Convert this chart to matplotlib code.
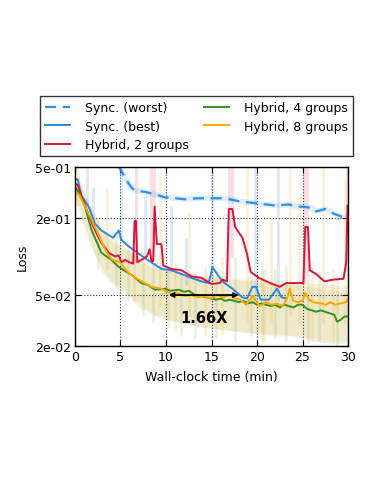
import numpy as np
import matplotlib
matplotlib.use("Agg")
import matplotlib.pyplot as plt
from matplotlib.ticker import FixedLocator, FuncFormatter, NullLocator

# ---------------- data ----------------
t_worst = [3.0, 4.0, 4.7, 5.3, 5.8, 6.3, 6.7, 7.7, 8.8, 9.9, 11.0, 12.1, 13.5, 15.0, 16.0,
           17.0, 18.0, 19.0, 20.0, 21.0, 22.0, 23.5, 24.5, 25.0, 26.0, 26.5, 27.5, 28.5, 29.3, 30.0]
y_worst = [0.9, 0.7, 0.52, 0.44, 0.38, 0.34, 0.325, 0.32, 0.305, 0.29, 0.285, 0.28, 0.285, 0.285,
           0.285, 0.28, 0.27, 0.265, 0.26, 0.255, 0.25, 0.255, 0.245, 0.245, 0.24, 0.225, 0.235,
           0.215, 0.205, 0.205]

t_best = [0.0, 0.3, 0.7, 1.5, 2.2, 2.9, 3.7, 4.2, 4.8, 5.1, 5.9, 7.0, 7.7, 8.4, 9.5, 10.6,
          11.7, 12.8, 13.9, 14.7, 15.1, 15.5, 16.2, 17.3, 18.4, 18.9, 19.5, 19.9, 20.4,
          21.3, 22.2, 22.7, 23.2]
y_best = [0.40, 0.40, 0.30, 0.245, 0.18, 0.16, 0.147, 0.14, 0.16, 0.135, 0.12, 0.105, 0.097,
          0.09, 0.08, 0.078, 0.073, 0.068, 0.064, 0.062, 0.083, 0.075, 0.064, 0.056, 0.048,
          0.047, 0.058, 0.058, 0.046, 0.046, 0.056, 0.048, 0.047]

t_h2 = [0.0, 0.3, 0.7, 1.5, 2.2, 2.9, 3.7, 4.4, 4.8, 5.1, 5.5, 6.0, 6.4, 6.55, 6.7, 6.85,
        7.3, 7.9, 8.2, 8.4, 8.6, 8.75, 9.0, 9.5, 9.7, 10.6, 11.7, 12.8, 13.9, 15.0, 15.9,
        16.2, 16.7, 16.9, 17.3, 17.6, 18.4, 18.9, 19.3, 20.2, 21.7, 22.5, 23.2, 24.7, 25.1,
        25.3, 25.6, 25.8, 26.5, 27.4, 28.4, 29.5, 29.8, 29.95]
y_h2 = [0.37, 0.36, 0.30, 0.21, 0.16, 0.128, 0.107, 0.10, 0.102, 0.09, 0.094, 0.09, 0.088,
        0.19, 0.19, 0.09, 0.094, 0.10, 0.114, 0.092, 0.092, 0.245, 0.125, 0.125, 0.085,
        0.08, 0.078, 0.07, 0.068, 0.061, 0.062, 0.066, 0.064, 0.235, 0.235, 0.17, 0.14,
        0.105, 0.076, 0.068, 0.061, 0.058, 0.062, 0.062, 0.062, 0.17, 0.17, 0.078, 0.073,
        0.064, 0.066, 0.067, 0.09, 0.25]

t_h4 = [0.0, 0.5, 1.1, 1.8, 2.9, 4.0, 4.8, 5.5, 6.2, 7.3, 8.0, 8.8, 9.9, 10.5, 11.4, 12.0,
        12.5, 13.2, 13.9, 14.5, 15.0, 15.5, 16.0, 16.5, 17.0, 17.5, 18.0, 18.5, 19.0, 19.5,
        20.0, 20.5, 21.0, 21.5, 22.0, 22.5, 23.0, 23.5, 24.0, 24.5, 25.0, 25.5, 26.0, 26.5,
        27.0, 27.5, 28.0, 28.5, 28.8, 29.2, 29.6, 30.0]
y_h4 = [0.35, 0.31, 0.245, 0.162, 0.107, 0.094, 0.083, 0.077, 0.072, 0.062, 0.060, 0.055,
        0.056, 0.054, 0.055, 0.053, 0.054, 0.050, 0.049, 0.048, 0.047, 0.046, 0.047, 0.045,
        0.046, 0.045, 0.044, 0.045, 0.043, 0.044, 0.042, 0.043, 0.042, 0.041, 0.042, 0.040,
        0.042, 0.041, 0.040, 0.042, 0.042, 0.039, 0.038, 0.037, 0.038, 0.037, 0.036, 0.035,
        0.031, 0.032, 0.034, 0.034]

t_h8 = [0.0, 0.5, 1.1, 2.2, 3.3, 4.0, 4.95, 6.0, 7.3, 8.4, 9.5, 10.6, 11.3, 12.1, 12.8,
        13.5, 14.2, 15.0, 15.6, 16.3, 17.0, 17.6, 18.2, 18.8, 19.5, 20.3, 21.0, 21.6, 22.2,
        22.8, 23.3, 23.6, 24.0, 24.5, 25.0, 25.3, 25.7, 26.2, 27.0, 27.6, 28.0, 28.6, 29.2,
        29.8, 30.0]
y_h8 = [0.32, 0.30, 0.245, 0.17, 0.114, 0.095, 0.09, 0.073, 0.064, 0.058, 0.056, 0.051,
        0.052, 0.049, 0.050, 0.048, 0.049, 0.047, 0.050, 0.048, 0.050, 0.047, 0.046, 0.042,
        0.049, 0.041, 0.044, 0.042, 0.043, 0.041, 0.047, 0.056, 0.045, 0.044, 0.045, 0.052,
        0.046, 0.044, 0.043, 0.042, 0.044, 0.042, 0.043, 0.044, 0.046]

# faint noise envelopes of the raw hybrid curves
t_band = [0.0, 0.5, 1.0, 1.5, 2.0, 3.0, 4.0, 5.0, 6.0, 7.0, 8.0, 9.0, 10.0, 12.0, 14.0,
          16.0, 18.0, 20.0, 22.0, 24.0, 26.0, 28.0, 30.0]
lo_h4 = [0.30, 0.24, 0.18, 0.14, 0.11, 0.075, 0.062, 0.055, 0.048, 0.040, 0.037, 0.034,
         0.032, 0.030, 0.028, 0.027, 0.026, 0.025, 0.024, 0.024, 0.022, 0.021, 0.021]
hi_h4 = [0.42, 0.40, 0.33, 0.26, 0.22, 0.16, 0.13, 0.12, 0.11, 0.095, 0.085, 0.08, 0.078,
         0.072, 0.07, 0.068, 0.066, 0.064, 0.062, 0.06, 0.058, 0.055, 0.052]
lo_h8 = [0.27, 0.22, 0.17, 0.13, 0.11, 0.08, 0.065, 0.058, 0.05, 0.043, 0.038, 0.035,
         0.033, 0.030, 0.028, 0.027, 0.026, 0.025, 0.025, 0.024, 0.023, 0.022, 0.022]
hi_h8 = [0.40, 0.38, 0.32, 0.27, 0.23, 0.17, 0.14, 0.125, 0.11, 0.10, 0.09, 0.085, 0.08,
         0.075, 0.072, 0.07, 0.068, 0.066, 0.065, 0.064, 0.062, 0.06, 0.058]

# faint spikes of the raw curves (time, bottom, top)
sp_best_t = [1.3, 2.0, 5.1, 7.7, 10.6, 12.2, 15.0, 19.8, 22.3]
sp_best_lo = [0.25, 0.18, 0.13, 0.095, 0.075, 0.06, 0.06, 0.045, 0.045]
sp_best_hi = [0.5, 0.35, 0.5, 0.3, 0.25, 0.14, 0.5, 0.5, 0.5]
sp_h2_t = [6.7, 8.4, 8.7, 16.9, 17.3, 25.2, 25.5, 29.9]
sp_h2_lo = [0.09, 0.09, 0.1, 0.07, 0.1, 0.06, 0.07, 0.08]
sp_h2_hi = [0.5, 0.5, 0.5, 0.5, 0.5, 0.5, 0.5, 0.5]
sp_h8_t = [0.3, 3.5, 6.5, 9.3, 11.0, 12.5, 14.3, 16.2, 18.9, 20.8, 21.5, 23.6, 24.6, 26.0,
           27.2, 28.3, 29.7]
sp_h8_lo = [0.25, 0.08, 0.045, 0.04, 0.026, 0.035, 0.024, 0.025, 0.03, 0.022, 0.03, 0.035,
            0.03, 0.022, 0.03, 0.021, 0.03]
sp_h8_hi = [0.5, 0.35, 0.16, 0.45, 0.09, 0.22, 0.085, 0.1, 0.5, 0.08, 0.2, 0.5, 0.3, 0.09,
            0.5, 0.08, 0.4]
sp_h4_t = [2.5, 4.5, 5.8, 7.5, 8.6, 10.2, 11.7, 13.2, 15.5, 17.6, 19.3, 20.5, 22.0, 23.2,
           25.6, 26.8, 28.8]
sp_h4_lo = [0.08, 0.055, 0.045, 0.035, 0.03, 0.028, 0.024, 0.023, 0.023, 0.022, 0.024, 0.021,
            0.023, 0.022, 0.021, 0.022, 0.02]
sp_h4_hi = [0.2, 0.15, 0.13, 0.11, 0.09, 0.085, 0.08, 0.075, 0.085, 0.1, 0.075, 0.09, 0.08,
            0.085, 0.07, 0.075, 0.065]

labels = ["Sync. (worst)", "Sync. (best)", "Hybrid, 2 groups", "Hybrid, 4 groups", "Hybrid, 8 groups"]
x_ticks = [0, 5, 10, 15, 20, 25, 30]
y_ticks = [0.02, 0.05, 0.2, 0.5]

# ---------------- style ----------------
c_worst = "#2f8ff0"
c_best = "#2e86de"
c_h2 = "#dc143c"
c_h4 = "#339122"
c_h8 = "#ffa500"

plt.rcParams["font.family"] = ["DejaVu Sans"]
plt.rcParams["font.size"] = 9

fig = plt.figure(figsize=(3.72, 4.81), dpi=100)
ax = fig.add_axes([0.2016, 0.2786, 0.7339, 0.3721])

# faint raw-noise backgrounds
ax.fill_between(t_band, lo_h8, hi_h8, color=c_h8, alpha=0.12, lw=0)
ax.fill_between(t_band, lo_h4, hi_h4, color="#7a9a30", alpha=0.12, lw=0)
ax.vlines(sp_h4_t, sp_h4_lo, sp_h4_hi, colors="#7a9a30", alpha=0.15, lw=1.8)
ax.vlines(sp_h8_t, sp_h8_lo, sp_h8_hi, colors=c_h8, alpha=0.18, lw=1.8)
ax.vlines(sp_best_t, sp_best_lo, sp_best_hi, colors=c_best, alpha=0.18, lw=2)
ax.vlines(sp_h2_t, sp_h2_lo, sp_h2_hi, colors=c_h2, alpha=0.15, lw=2)
ax.plot(t_worst, y_worst, color=c_worst, alpha=0.15, lw=4)

# main smoothed curves
ax.plot(t_worst, y_worst, color=c_worst, lw=1.6, ls=(0, (5, 3)), label=labels[0])
ax.plot(t_best, y_best, color=c_best, lw=1.4, label=labels[1])
ax.plot(t_h2, y_h2, color=c_h2, lw=1.4, label=labels[2])
ax.plot(t_h4, y_h4, color=c_h4, lw=1.4, label=labels[3])
ax.plot(t_h8, y_h8, color=c_h8, lw=1.4, label=labels[4])

ax.set_yscale("log")
ax.set_xlim(0, 30)
ax.set_ylim(0.02, 0.5)
ax.xaxis.set_major_locator(FixedLocator(x_ticks))
ax.yaxis.set_major_locator(FixedLocator(y_ticks))
ax.yaxis.set_minor_locator(NullLocator())
ax.yaxis.set_major_formatter(FuncFormatter(lambda v, p: "%.0e" % v))
ax.tick_params(direction="in", length=4, width=0.8, labelsize=9, pad=3,
               top=True, right=True)
ax.grid(True, which="major", color="black", ls=":", lw=0.8, alpha=0.8)
for s in ax.spines.values():
    s.set_linewidth(1.0)

ax.set_xlabel("Wall-clock time (min)", fontsize=9, labelpad=5)
ax.set_ylabel("Loss", fontsize=9, labelpad=4)

# speedup annotation
ax.annotate("", xy=(10.3, 0.05), xytext=(18.0, 0.05),
            arrowprops=dict(arrowstyle="<|-|>", color="black", lw=1.3,
                            mutation_scale=7, shrinkA=0, shrinkB=0))
ax.text(14.2, 0.0335, "1.66X", fontsize=10.5, fontweight="bold", ha="center", va="center")

handles, labs = ax.get_legend_handles_labels()
leg = fig.legend(handles, labs, ncol=2, loc="upper left",
                 bbox_to_anchor=(0.1075, 0.7983), borderaxespad=0.0,
                 frameon=True, fancybox=False,
                 edgecolor="black", fontsize=9, handlelength=2.0, handletextpad=1.2,
                 columnspacing=1.2, labelspacing=0.45, borderpad=0.4)
leg.get_frame().set_linewidth(1.0)

fig.savefig("out.png", dpi=100)
